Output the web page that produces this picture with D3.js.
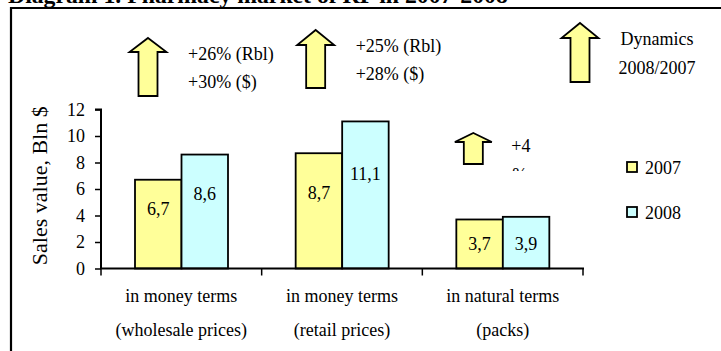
<!DOCTYPE html>
<html>
<head>
<meta charset="utf-8">
<script src="https://cdn.jsdelivr.net/npm/d3@7"></script>
<style>
  body { margin: 0; background: #fff; }
  svg text { font-family: "Liberation Serif", "Times New Roman", serif; fill: #000; }
</style>
</head>
<body>
<script>
// chart data
const categories = ["wholesale", "retail", "packs"];
const categoryLine1 = ["in money terms", "in money terms", "in natural terms"];
const categoryLine2 = ["(wholesale prices)", "(retail prices)", "(packs)"];
const seriesNames = ["2007", "2008"];
const values2007 = [6.7, 8.7, 3.7];
const values2008 = [8.6, 11.1, 3.9];
const yTicks = [0, 2, 4, 6, 8, 10, 12];
const growthRbl = ["+26%", "+25%", "+4%"];
const growthUsd = ["+30%", "+28%"];

const colors = { "2007": "#ffff99", "2008": "#ccffff" };
const width = 721, height = 351;
const fs = 18; // smaller sizes fall back to a sans face here

const svg = d3.select("body").append("svg")
  .attr("width", width)
  .attr("height", height);

function label(parent, x, y, str) {
  return parent.append("text")
    .attr("x", x)
    .attr("y", y)
    .attr("font-size", fs)
    .text(str);
}

// title (partly cut off at the top of the picture)
const title = svg.append("text")
  .attr("x", 8)
  .attr("y", 3)
  .attr("font-weight", "bold")
  .attr("font-size", 20)
  .text("Diagram 1. Pharmacy market of RF in 2007-2008");
const tw = title.node().getComputedTextLength();
title.attr("font-size", 20 * 500 / tw);

// outer frame (top & left edges only visible)
svg.append("path")
  .attr("d", `M11,${height + 5} V8 H${width + 5}`)
  .attr("fill", "none")
  .attr("stroke", "#000")
  .attr("stroke-width", 2.2);

// scales
const x = d3.scaleBand().domain(categories).range([101, 583]);
const xs = d3.scaleBand().domain(seriesNames).range([34, 127]);
const y = d3.scaleLinear().domain([0, 12]).range([268.5, 109.5]);

// y axis
const yAxis = svg.append("g")
  .attr("transform", "translate(101,0)")
  .call(d3.axisLeft(y).tickValues(yTicks).tickSize(6).tickPadding(10).tickFormat(d3.format("d")));
yAxis.attr("font-family", null).attr("font-size", null);
yAxis.select(".domain").attr("stroke-width", 2).attr("d", `M0,${y(0)}V${y(12)}H-6`);
yAxis.selectAll(".tick line").attr("stroke-width", 1.5);
yAxis.selectAll(".tick text")
  .attr("font-size", fs)
  .attr("fill", "#000");

svg.append("text")
  .attr("transform", `translate(47,${(y(0) + 103) / 2}) rotate(-90)`)
  .attr("text-anchor", "middle")
  .attr("font-size", 22)
  .text("Sales value, Bln $");

// bars
const rows = categories.map((c, i) => ({ cat: c, vals: [values2007[i], values2008[i]] }));
const groups = svg.append("g").selectAll("g")
  .data(rows)
  .enter()
  .append("g")
  .attr("transform", (d) => `translate(${x(d.cat)},0)`);

const bars = groups.selectAll("g")
  .data((d) => d.vals.map((v, j) => ({ s: seriesNames[j], v: v })))
  .enter()
  .append("g");

bars.append("rect")
  .attr("x", (d) => xs(d.s))
  .attr("y", (d) => y(d.v))
  .attr("width", xs.bandwidth())
  .attr("height", (d) => y(0) - y(d.v))
  .attr("fill", (d) => colors[d.s])
  .attr("stroke", "#000")
  .attr("stroke-width", 1.8);

bars.append("text")
  .attr("x", (d) => xs(d.s) + xs.bandwidth() / 2)
  .attr("y", (d) => y(d.v > 5 ? d.v * 0.6 : 1.4))
  .attr("text-anchor", "middle")
  .attr("font-size", fs)
  .text((d) => String(d.v).replace(".", ","));

// x axis
svg.append("line")
  .attr("x1", 100).attr("x2", 584)
  .attr("y1", y(0)).attr("y2", y(0))
  .attr("stroke", "#000")
  .attr("stroke-width", 2);
const bounds = categories.map((c) => x(c)).concat([x.range()[1]]);
svg.append("g").selectAll("line")
  .data(bounds)
  .enter()
  .append("line")
  .attr("x1", (d) => d).attr("x2", (d) => d)
  .attr("y1", y(0)).attr("y2", y(0) + 7)
  .attr("stroke", "#000")
  .attr("stroke-width", 1.5);

const catLabels = svg.append("g").selectAll("text")
  .data(categories)
  .enter()
  .append("text")
  .attr("text-anchor", "middle")
  .attr("font-size", fs);
catLabels.append("tspan")
  .attr("x", (d) => x(d) + x.bandwidth() / 2)
  .attr("y", 302)
  .text((d, i) => categoryLine1[i]);
catLabels.append("tspan")
  .attr("x", (d) => x(d) + x.bandwidth() / 2)
  .attr("y", 336)
  .text((d, i) => categoryLine2[i]);

// block arrows for growth
function arrowPath(cx, tip, neck, bottom, hw, sw) {
  return `M${cx},${tip} L${cx + hw},${neck} L${cx + sw},${neck} L${cx + sw},${bottom}` +
    ` L${cx - sw},${bottom} L${cx - sw},${neck} L${cx - hw},${neck} Z`;
}
const arrows = [
  { cx: x(categories[0]) + 47, tip: 38, neck: 52, bottom: 96 },
  { cx: x(categories[1]) + 54, tip: 30, neck: 45, bottom: 88 },
  { cx: x(categories[2]) + 51, tip: 133, neck: 142, bottom: 164 },
  { cx: 580, tip: 23, neck: 38, bottom: 82 },
];
svg.append("g").selectAll("path")
  .data(arrows)
  .enter()
  .append("path")
  .attr("d", (d) => arrowPath(d.cx, d.tip, d.neck, d.bottom, 18.5, 9.5))
  .attr("fill", "#ffff99")
  .attr("stroke", "#000")
  .attr("stroke-width", 1.8)
  .attr("stroke-linejoin", "miter");

// growth texts
const growthPos = [
  { x: x(categories[0]) + 87, y1: 60, y2: 88 },
  { x: x(categories[1]) + 94, y1: 52, y2: 80 },
];
growthPos.forEach((p, i) => {
  label(svg, p.x, p.y1, growthRbl[i] + " (Rbl)");
  label(svg, p.x, p.y2, growthUsd[i] + " ($)");
});

// the small text box for packs is clipped
svg.append("clipPath").attr("id", "clipSmall")
  .append("rect").attr("x", 500).attr("y", 135).attr("width", 40).attr("height", 36);
const small = svg.append("g").attr("clip-path", "url(#clipSmall)");
label(small, x(categories[2]) + 89, 152, growthRbl[2].slice(0, 2));
label(small, x(categories[2]) + 90, 181, growthRbl[2].slice(2));

// dynamics legend
label(svg, 657, 45, "Dynamics").attr("text-anchor", "middle");
label(svg, 657, 74, "2008/2007").attr("text-anchor", "middle");

// series legend
const legend = svg.append("g").selectAll("g")
  .data(seriesNames)
  .enter()
  .append("g")
  .attr("transform", (d, i) => `translate(627,${162 + i * 45})`);
legend.append("rect")
  .attr("width", 10).attr("height", 10)
  .attr("fill", (d) => colors[d])
  .attr("stroke", "#000")
  .attr("stroke-width", 1.8);
legend.append("text")
  .attr("x", 18).attr("y", 12)
  .attr("font-size", fs)
  .text((d) => d);
</script>
</body>
</html>
